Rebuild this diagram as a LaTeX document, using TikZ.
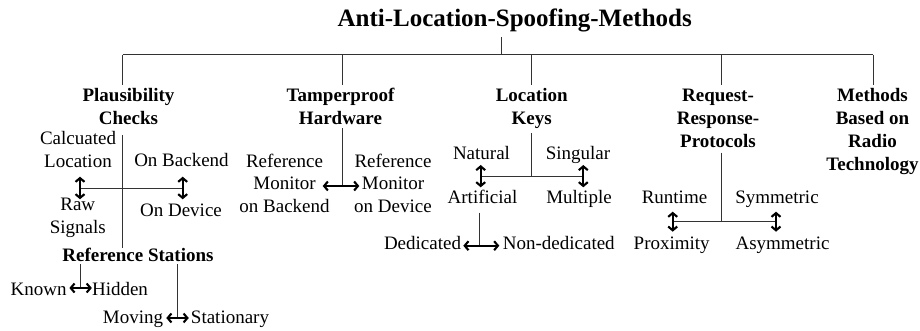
\documentclass[tikz,border=0pt]{standalone}
\usepackage{fontspec}
\setmainfont{Liberation Serif}
\usetikzlibrary{arrows.meta,calc}

\tikzset{
  lbl/.style={anchor=base, inner sep=0pt, font=\fontsize{19}{22.67}\selectfont},
  cat/.style={lbl, font=\fontsize{19}{22.67}\selectfont\bfseries},
  wire/.style={draw=black!80, line width=1pt},
  swap/.style={draw=black, line width=2.1pt,
    {Straight Barb[length=3.8pt,width=9pt]}-{Straight Barb[length=3.8pt,width=9pt]}},
}
\newcommand{\lines}[1]{\begin{tabular}[t]{@{}c@{}}#1\end{tabular}}

\begin{document}
\begin{tikzpicture}[x=1pt,y=-1pt]
\useasboundingbox (0,0) rectangle (920,331);
\renewcommand{\arraystretch}{1}

% root
\node[anchor=base, inner sep=0pt, font=\fontsize{25}{30}\selectfont\bfseries] (root) at (514.7,26.7) {Anti-Location-Spoofing-Methods};

% categories
\node[cat] (plaus)  at (128.5,102) {\lines{Plausibility\\Checks}};
\node[cat] (tamper) at (340.5,102) {\lines{Tamperproof\\Hardware}};
\node[cat] (keys)   at (531.7,102) {\lines{Location\\Keys}};
\node[cat] (rrp)    at (718,102)   {\lines{Request-\\Response-\\Protocols}};
\node[cat] (radio)  at (872.5,102) {\lines{Methods\\Based on\\Radio\\Technology}};

% tree junctions
\coordinate (rj) at (501,55);
\coordinate (b1) at (122.7,55);
\coordinate (b2) at (342.3,55);
\coordinate (b3) at (531.7,55);
\coordinate (b4) at (721.7,55);
\coordinate (b5) at (873.3,55);
\draw[wire] (rj |- 0,37.3) -- (rj);
\draw[wire] (b1) -- (b5);
\foreach \b in {b1,b2,b3,b4,b5} \draw[wire] (\b) -- ++(0,30);

% Plausibility checks
\node[lbl] (calc)   at (78,145)    {\lines{Calcuated\\Location}};
\node[lbl] (onback) at (181.5,167) {On Backend};
\node[lbl] (raw)    at (77.8,210.7){\lines{Raw\\Signals}};
\node[lbl] (ondev)  at (181,216)   {On Device};
\node[cat] (refst)  at (138,261.7) {Reference Stations};
\coordinate (p1) at (80,188.3);
\coordinate (p2) at (182.7,188.3);
\draw[wire] (122.7,135) -- (122.7,248);
\draw[wire] (p1) -- (p2);
\draw[swap] ($(p1)+(0,-11.6)$) -- ($(p1)+(0,11)$);
\draw[swap] ($(p2)+(0,-11.6)$) -- ($(p2)+(0,11)$);

% reference stations
\node[lbl] (known)  at (38.7,295)  {Known};
\node[lbl] (hidden) at (120,295)   {Hidden};
\node[lbl] (moving) at (133,323.3) {Moving};
\node[lbl] (stat)   at (230,323.3) {Stationary};
\coordinate (r1) at (80,288);
\coordinate (r2) at (177.3,318);
\draw[wire] (80,264) -- (r1);
\draw[swap] ($(known.east |- r1)+(2.5,0)$) -- (hidden.west |- r1);
\draw[wire] (177.3,264) -- (r2);
\draw[swap] ($(moving.east |- r2)+(3,0)$) -- ($(stat.west |- r2)+(-2,0)$);

% tamperproof hardware
\node[lbl] (rmb) at (284.5,167.3) {\lines{Reference\\Monitor\\on Backend}};
\node[lbl] (rmd) at (393,167.3)   {\lines{Reference\\Monitor\\on Device}};
\coordinate (t1) at (342.3,186);
\draw[wire] (342.3,128.3) -- (t1);
\draw[swap] (322.7,186) -- (359.3,186);

% location keys
\node[lbl] (natural) at (481.5,159.3) {Natural};
\node[lbl] (single)  at (578,159.3)   {Singular};
\node[lbl] (artif)   at (482.5,203.3) {Artificial};
\node[lbl] (multi)   at (579,203.3)   {Multiple};
\node[lbl] (dedic)   at (422.5,249.3) {Dedicated};
\node[lbl] (nondedic) at (558.8,249.3){Non-dedicated};
\coordinate (k1) at (480.7,176.7);
\coordinate (k2) at (583.3,176.7);
\draw[wire] (531.7,133.3) -- (531.7,176.7);
\draw[wire] (k1) -- (k2);
\draw[swap] ($(k1)+(0,-11.7)$) -- ($(k1)+(0,10.6)$);
\draw[swap] ($(k2)+(0,-11.7)$) -- ($(k2)+(0,10.6)$);
\coordinate (k3) at (479.3,245.7);
\draw[wire] (479.3,212.7) -- (k3);
\draw[swap] (463.3,245.7) -- (499.3,245.7);

% request-response protocols
\node[lbl] (runtime) at (674.5,204)   {Runtime};
\node[lbl] (sym)     at (777,204)     {Symmetric};
\node[lbl] (prox)    at (671.7,249.3) {Proximity};
\node[lbl] (asym)    at (782.5,249.3) {Asymmetric};
\coordinate (q1) at (672.7,221.7);
\coordinate (q2) at (776,221.7);
\draw[wire] (721.7,152.7) -- (721.7,221.7);
\draw[wire] (q1) -- (q2);
\draw[swap] ($(q1)+(0,-10)$) -- ($(q1)+(0,10)$);
\draw[swap] ($(q2)+(0,-10)$) -- ($(q2)+(0,10)$);
\end{tikzpicture}
\end{document}
